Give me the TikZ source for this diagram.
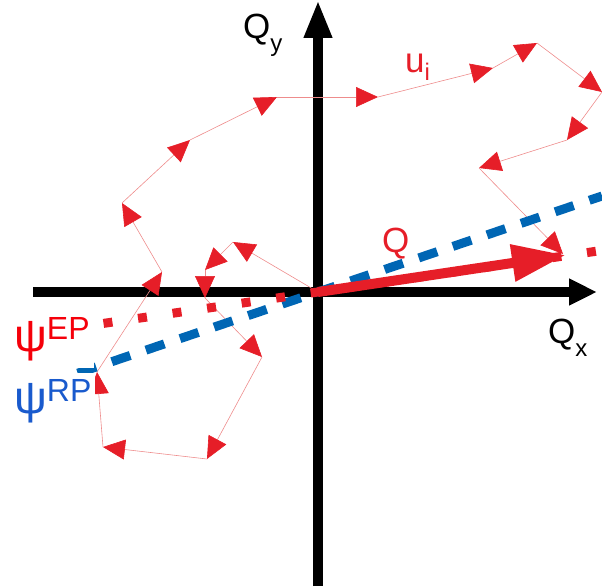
\documentclass[tikz,border=0pt]{standalone}
\usepackage{fontspec}
\setmainfont{Liberation Sans}
\usepackage{tikz}
\usetikzlibrary{arrows.meta}
\definecolor{qred}{RGB}{230,30,40}
\definecolor{eptext}{RGB}{245,0,10}
\definecolor{rpblue}{RGB}{0,102,180}
\definecolor{rptext}{RGB}{25,90,205}
\definecolor{walkline}{RGB}{238,140,140}
\newcommand{\sublbl}[2][0.38em]{\raisebox{-#1}{\fontsize{24}{26}\selectfont #2}}
\newcommand{\suplbl}[1]{\raisebox{0.24em}{\fontsize{32}{34}\selectfont #1}}

\begin{document}
\begin{tikzpicture}[x=1pt, y=-1pt]
    \tikzstyle{axis}=[line width=10pt, black]
    \tikzstyle{walk}=[line width=0.6pt, walkline, -{Triangle[length=22pt, width=20pt, color=qred]}]
    \tikzstyle{lbl}=[inner sep=0pt, anchor=base west, font=\fontsize{35}{40}\selectfont]
    \tikzstyle{psi}=[fill=white, inner xsep=4pt, inner ysep=7pt, anchor=base west, font=\fontsize{46}{50}\selectfont]
    \useasboundingbox (0,0) rectangle (602,586);
    % axes
    \coordinate (o) at (318,292);
    \coordinate (xl) at (33,292);
    \coordinate (xr) at (597,292);
    \coordinate (yb) at (318,586);
    \coordinate (yt) at (318,0);
    \draw[axis, -{Triangle[length=28pt, width=25pt]}] (xl) -- (xr);
    \draw[axis, -{Triangle[length=38pt, width=26pt]}] (yb) -- (yt);
    % random walk of the u_i
    \foreach \px/\py [count=\k from 0] in {318/292, 233/242, 205/270, 205/298, 262/357,
        207/459, 103/447, 97/372, 162/272, 122/203, 190/140, 277/97,
        378/97, 493/68, 537/43, 602/92, 567/140, 479/168, 563/254}
        \coordinate (w\k) at (\px,\py);
    \foreach \i [count=\j] in {0,...,17}
        \draw[walk] (w\i) -- (w\j);
    % event planes
    \coordinate (rpA) at (77.7,373.2);
    \coordinate (rpB) at (602,196);
    \draw[line width=9pt, rpblue, dash pattern=on 19.5pt off 16.5pt] (rpA) -- (rpB);
    \coordinate (epA) at (103.5,323.4);
    \coordinate (epB) at (602,250.4);
    \draw[line width=9pt, qred, dash pattern=on 9pt off 25.9pt] (epA) -- (epB);
    % flow vector
    \coordinate (qend) at (566,255);
    \draw[line width=10pt, qred, -{Triangle[length=54pt, width=35pt]}] (o) -- (qend);
    % labels
    \node[lbl] (qy) at (243,38) {Q\sublbl{y}};
    \node[lbl] (qx) at (548,343) {Q\sublbl{x}};
    \node[lbl, text=qred] (ui) at (405,72) {u\sublbl[0.23em]{i}};
    \node[lbl, text=qred] (qlbl) at (382,252) {Q};
    \node[psi, text=eptext] (ep) at (10,351) {ψ\suplbl{EP}};
    \node[psi, text=rptext] (rp) at (10,413) {ψ\suplbl{RP}};
\end{tikzpicture}
\end{document}
